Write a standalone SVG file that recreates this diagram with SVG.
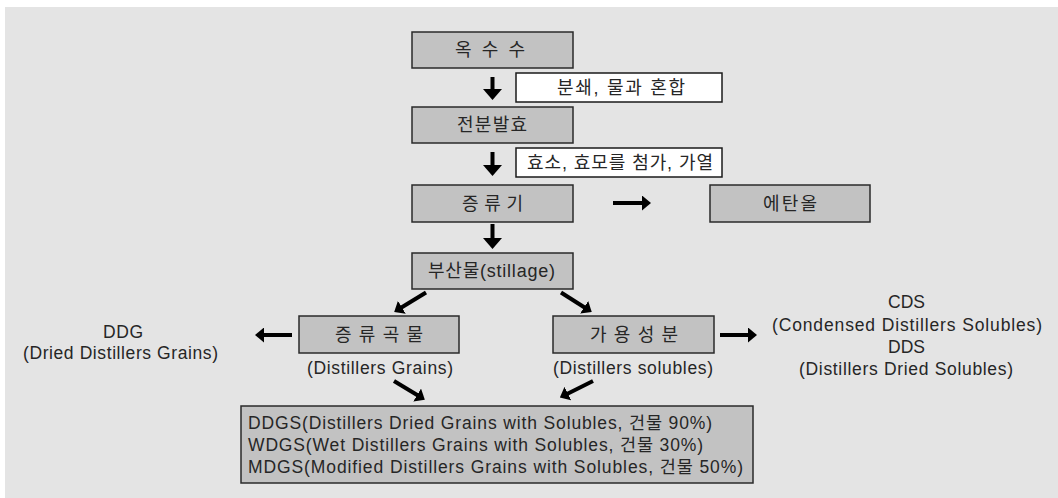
<svg xmlns="http://www.w3.org/2000/svg" width="1058" height="498" viewBox="0 0 1058 498">
<style>
.bg{fill:#e4e4e4}
.box{fill:#c2c2c2;stroke:#2a2a2a;stroke-width:1.5}
.lbl{fill:#ffffff;stroke:#1a1a1a;stroke-width:1.5}
text{font-family:"Liberation Sans","Noto Sans CJK KR",sans-serif;font-size:17.5px;fill:#262626;dominant-baseline:central}
.c{text-anchor:middle}
.kr{font-size:18px}
.arr{stroke:#000;fill:none}
.big{stroke-width:4;marker-end:url(#hb)}
.sm{stroke-width:4;marker-end:url(#hs)}
</style>
<defs>
<marker id="hb" markerUnits="userSpaceOnUse" viewBox="0 0 11 19" markerWidth="11" markerHeight="19" refX="1" refY="9.5" orient="auto">
<path d="M0,0 L11,9.5 L0,19 Z" fill="#000"/>
</marker>
<marker id="hs" markerUnits="userSpaceOnUse" viewBox="0 0 9 15" markerWidth="9" markerHeight="15" refX="1" refY="7.5" orient="auto">
<path d="M0,0 L9,7.5 L0,15 Z" fill="#000"/>
</marker>
</defs>
<rect class="bg" x="5" y="7" width="1053" height="491"/>

<g id="connectors">
<line class="arr big" x1="492.5" y1="77" x2="492.5" y2="90"/>
<line class="arr big" x1="492.5" y1="152" x2="492.5" y2="166"/>
<line class="arr big" x1="492.5" y1="224" x2="492.5" y2="239"/>
<line class="arr sm" x1="613" y1="203" x2="643" y2="203"/>
<line class="arr sm" x1="426" y1="292.5" x2="401" y2="307.8"/>
<line class="arr sm" x1="561" y1="292.5" x2="585" y2="307.8"/>
<line class="arr sm" x1="292" y1="335" x2="263" y2="335"/>
<line class="arr sm" x1="720" y1="335" x2="749" y2="335"/>
<line class="arr sm" x1="394" y1="381" x2="418" y2="395.5"/>
<line class="arr sm" x1="593" y1="381" x2="567" y2="394"/>
</g>

<g id="n-corn">
<rect class="box" x="412" y="32" width="161" height="36"/>
<text class="c kr" x="490" y="50" textLength="70">옥 수 수</text>
</g>
<g id="l-grind">
<rect class="lbl" x="516" y="73" width="206" height="29"/>
<text class="c kr" x="621" y="87.5" textLength="128">분쇄, 물과 혼합</text>
</g>
<g id="n-ferment">
<rect class="box" x="412" y="107" width="161" height="36"/>
<text class="c kr" x="492" y="125" textLength="70">전분발효</text>
</g>
<g id="l-enzyme">
<rect class="lbl" x="516" y="148" width="206" height="29"/>
<text class="c kr" x="620" y="162.5" textLength="186">효소, 효모를 첨가, 가열</text>
</g>
<g id="n-distill">
<rect class="box" x="412" y="185" width="161" height="37"/>
<text class="c kr" x="492.5" y="203.5" textLength="61">증 류 기</text>
</g>
<g id="n-ethanol">
<rect class="box" x="710" y="185" width="160" height="37"/>
<text class="c kr" x="790" y="203.5" textLength="54">에탄올</text>
</g>
<g id="n-stillage">
<rect class="box" x="412" y="253" width="161" height="36"/>
<text class="c kr" x="491.5" y="271" textLength="127">부산물(stillage)</text>
</g>
<g id="n-grains">
<rect class="box" x="299" y="316" width="160" height="37"/>
<text class="c kr" x="379" y="334.5" textLength="88">증 류 곡 물</text>
<text class="c" x="380" y="368" textLength="146">(Distillers Grains)</text>
</g>
<g id="n-solubles">
<rect class="box" x="553" y="316" width="161" height="37"/>
<text class="c kr" x="634" y="334.5" textLength="88">가 용 성 분</text>
<text class="c" x="633" y="368" textLength="160">(Distillers solubles)</text>
</g>
<g id="n-ddg">
<text class="c" x="123" y="332" textLength="40">DDG</text>
<text class="c" x="120.5" y="353" textLength="195">(Dried Distillers Grains)</text>
</g>
<g id="n-cds">
<text class="c" x="906.5" y="302" textLength="37">CDS</text>
<text class="c" x="907" y="325" textLength="270">(Condensed Distillers Solubles)</text>
<text class="c" x="906.5" y="346.5" textLength="37">DDS</text>
<text class="c" x="906" y="369" textLength="214">(Distillers Dried Solubles)</text>
</g>
<g id="n-ddgs">
<rect class="box" x="241" y="406" width="512" height="77"/>
<text x="248" y="423" textLength="464">DDGS(Distillers Dried Grains with Solubles, 건물 90%)</text>
<text x="248" y="445" textLength="455">WDGS(Wet Distillers Grains with Solubles, 건물 30%)</text>
<text x="248" y="466.5" textLength="495">MDGS(Modified Distillers Grains with Solubles, 건물 50%)</text>
</g>
</svg>
